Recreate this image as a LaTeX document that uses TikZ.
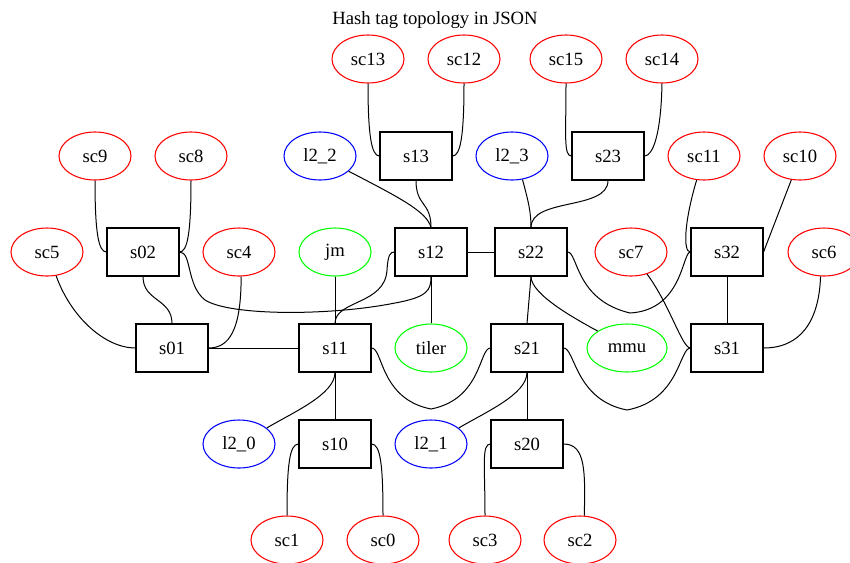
\documentclass[tikz,border=0pt]{standalone}
\usepackage{fontspec}
\setmainfont{Liberation Serif}
\usetikzlibrary{shapes.geometric}
\begin{document}
\begin{tikzpicture}[x=0.75pt,y=-0.75pt,
  lbl/.style={font=\fontsize{14}{16}\selectfont},
  sw/.style={lbl,draw,rectangle,minimum width=54pt,minimum height=36pt,inner sep=0pt,line width=0.8pt},
  oval/.style={lbl,draw,ellipse,minimum width=54pt,minimum height=36pt,inner sep=0pt,line width=0.8pt},
  scn/.style={oval,draw={rgb,255:red,255;green,0;blue,0}},
  l2n/.style={oval,draw={rgb,255:red,0;green,0;blue,255}},
  svc/.style={oval,draw={rgb,255:red,0;green,255;blue,0}},
  link/.style={line width=0.75pt}]
\useasboundingbox (0,0) rectangle (850,562);
\node[lbl] (title) at (435,20) {Hash tag topology in JSON};
% top row of service clients
\node[scn] (sc13) at (368,59) {sc13};
\node[scn] (sc12) at (464,59) {sc12};
\node[scn] (sc15) at (566,59) {sc15};
\node[scn] (sc14) at (662,59) {sc14};
% second row
\node[scn] (sc9) at (95,156) {sc9};
\node[scn] (sc8) at (191,156) {sc8};
\node[l2n] (la2) at (320,156) {l2\_2};
\node[sw] (s13) at (416,156) {s13};
\node[l2n] (la3) at (512,156) {l2\_3};
\node[sw] (s23) at (608,156) {s23};
\node[scn] (sc11) at (704,156) {sc11};
\node[scn] (sc10) at (800,156) {sc10};
% third row
\node[scn] (sc5) at (47,252) {sc5};
\node[sw] (s02) at (143,252) {s02};
\node[scn] (sc4) at (239,252) {sc4};
\node[svc] (jm) at (335,252) {jm};
\node[sw] (s12) at (431,252) {s12};
\node[sw] (s22) at (531,252) {s22};
\node[scn] (sc7) at (631,252) {sc7};
\node[sw] (s32) at (727,252) {s32};
\node[scn] (sc6) at (824,252) {sc6};
% fourth row
\node[sw] (s01) at (172,348) {s01};
\node[sw] (s11) at (335,348) {s11};
\node[svc] (tiler) at (431,348) {tiler};
\node[sw] (s21) at (527,348) {s21};
\node[svc,minimum width=60pt] (mmu) at (627,348) {mmu};
\node[sw] (s31) at (727,348) {s31};
% fifth row
\node[l2n] (la0) at (239,444) {l2\_0};
\node[sw] (s10) at (335,444) {s10};
\node[l2n] (la1) at (431,444) {l2\_1};
\node[sw] (s20) at (527,444) {s20};
% bottom row
\node[scn] (sc1) at (287,540) {sc1};
\node[scn] (sc0) at (383,540) {sc0};
\node[scn] (sc3) at (485,540) {sc3};
\node[scn] (sc2) at (580,540) {sc2};

% links
\draw[link] (sc13.south) .. controls +(0,52) and +(-8,0) .. (s13.west);
\draw[link] (sc12.south) .. controls +(0,52) and +(8,0) .. (s13.east);
\draw[link] (sc15.south) .. controls +(0,52) and +(-8,0) .. (s23.west);
\draw[link] (sc14.south) .. controls +(-1,52) and +(8,0) .. (s23.east);
\draw[link] (sc9.south) .. controls +(0,52) and +(-8,0) .. (s02.west);
\draw[link] (sc8.south) .. controls +(0,52) and +(8,0) .. (s02.east);
\draw[link] (la2.-28) .. controls +(50,26) and +(-4,-16) .. (s12.north);
\draw[link] (s13.south) .. controls +(0,26) and +(0,-26) .. (s12.north);
\draw[link] (la3.-66) .. controls +(6,22) and +(0,-15) .. (s22.north);
\draw[link] (s23.south) .. controls +(0,30) and +(0,-30) .. (s22.north);
\draw[link] (sc11.-107) .. controls +(-12,40) and +(-8,0) .. (s32.west);
\draw[link] (sc10.-110) -- (s32.east);
\draw[link] (sc5.-69) .. controls +(15,42) and +(-30,0) .. (s01.west);
\draw[link] (s02.south) .. controls +(0,25) and +(0,-25) .. (s01.north);
\draw[link] (sc4.-85) .. controls +(0,55) and +(20,0) .. (s01.east);
\draw[link] (s02.east) .. controls (192,252) and (186,285) .. (205,300)
  .. controls (230,316) and (330,316) .. (395,303)
  .. controls (428,297) and (431,290) .. (s12.south);
\draw[link] (s11.north) .. controls (335,300) and (385,305) .. (387,270)
  .. controls (388,255) and (390,252) .. (s12.west);
\draw[link] (jm.south) -- (s11.north);
\draw[link] (s12.east) -- (s22.west);
\draw[link] (s12.south) -- (tiler.north);
\draw[link] (s22.south) -- (s21.north);
\draw[link] (s22.south) .. controls +(0,18) and +(-22,-12) .. (mmu.150);
\draw[link] (s22.east) .. controls (578,252) and (575,300) .. (630,313)
  .. controls (683,310) and (682,252) .. (s32.west);
\draw[link] (sc7.-54) .. controls (670,305) and (682,348) .. (s31.west);
\draw[link] (s32.south) -- (s31.north);
\draw[link] (sc6.-98) .. controls (819,322) and (800,348) .. (s31.east);
\draw[link] (s01.east) -- (s11.west);
\draw[link] (s11.east) .. controls (383,348) and (380,399) .. (431,409)
  .. controls (482,399) and (479,348) .. (s21.west);
\draw[link] (s21.east) .. controls (575,348) and (575,400) .. (627,410)
  .. controls (680,400) and (679,348) .. (s31.west);
\draw[link] (s11.south) .. controls +(0,22) and +(25,-15) .. (la0.30);
\draw[link] (s11.south) -- (s10.north);
\draw[link] (s21.south) .. controls +(0,22) and +(25,-15) .. (la1.30);
\draw[link] (s21.south) -- (s20.north);
\draw[link] (s10.west) .. controls +(-9,0) and +(0,-50) .. (sc1.north);
\draw[link] (s10.east) .. controls +(9,0) and +(0,-50) .. (sc0.north);
\draw[link] (s20.west) .. controls +(-9,0) and +(0,-50) .. (sc3.north);
\draw[link] (s20.east) .. controls +(22,0) and +(1,-45) .. (sc2.80);
\end{tikzpicture}
\end{document}
